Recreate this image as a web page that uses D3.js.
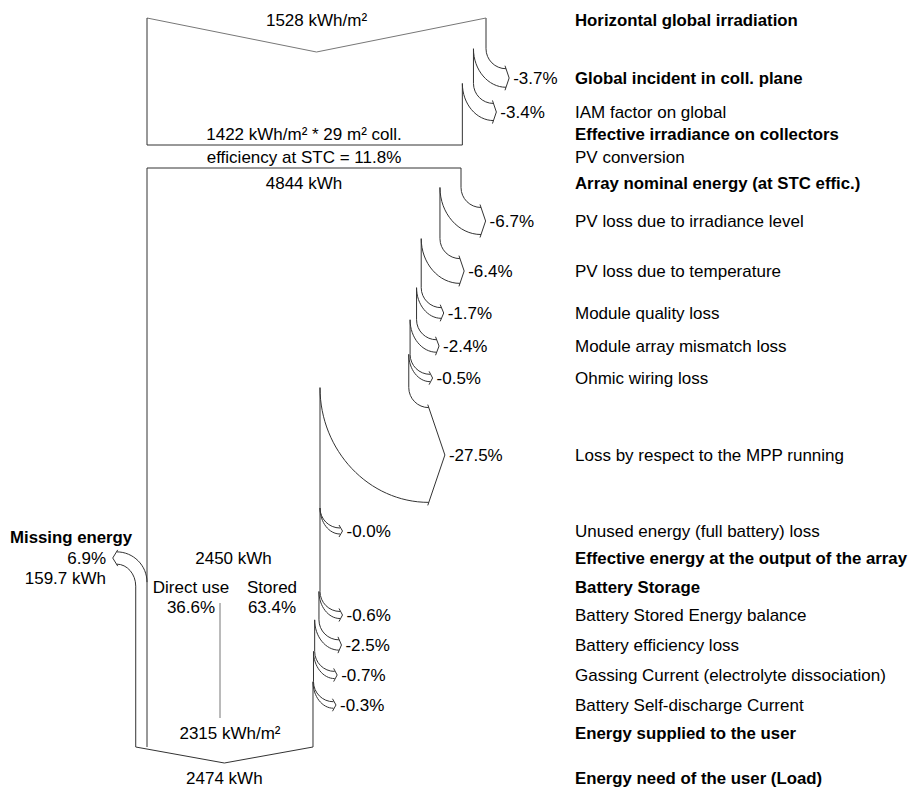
<!DOCTYPE html>
<html>
<head>
    <title>Loss diagram</title>
    <script src="https://d3js.org/d3.v7.min.js"></script>
    <style>
        body {
            margin: 0;
            background: #fff;
        }
        svg text {
            font-family: "Liberation Sans", Arial, sans-serif;
            font-size: 17px;
            fill: #000;
        }
        .bold {
            font-weight: bold;
            font-size: 16.8px;
        }
        .edge {
            stroke: #333;
            stroke-width: 1;
            fill: none;
        }
        .soft {
            stroke: #777;
            stroke-width: 1;
            fill: none;
        }
    </style>
</head>
<body>
    <svg id="chart" width="913" height="789"></svg>

    <script>
        // Right column: step names, bold flag and loss (%) of each step
        const stepNames = [
            'Horizontal global irradiation',
            'Global incident in coll. plane',
            'IAM factor on global',
            'Effective irradiance on collectors',
            'PV conversion',
            'Array nominal energy (at STC effic.)',
            'PV loss due to irradiance level',
            'PV loss due to temperature',
            'Module quality loss',
            'Module array mismatch loss',
            'Ohmic wiring loss',
            'Loss by respect to the MPP running',
            'Unused energy (full battery) loss',
            'Effective energy at the output of the array',
            'Battery Storage',
            'Battery Stored Energy balance',
            'Battery efficiency loss',
            'Gassing Current (electrolyte dissociation)',
            'Battery Self-discharge Current',
            'Energy supplied to the user',
            'Energy need of the user (Load)'
        ];
        const stepBold = [1, 1, 0, 1, 0, 1, 0, 0, 0, 0, 0, 0, 0, 1, 1, 0, 0, 0, 0, 1, 1];
        const stepLoss = [null, -3.7, -3.4, null, null, null, -6.7, -6.4, -1.7, -2.4, -0.5,
                          -27.5, -0.0, null, null, -0.6, -2.5, -0.7, -0.3, null, null];

        // flow values
        const irradiation = [1528, 1422];      // kWh/m2: horizontal, effective
        const collArea = [29];                  // m2
        const stcEfficiency = [11.8];           // %
        const arrayEnergy = [4844, 2450];       // kWh: nominal, array output
        const userEnergy = [2315, 2474];        // kWh: supplied, need
        const missingEnergy = [6.9, 159.7];     // %, kWh
        const batterySplit = [36.6, 63.4];      // % direct use, stored

        // layout (vertical position of each row)
        const rowY = [20, 78, 112, 134, 157, 183, 221, 271, 313, 346, 378, 455,
                      531, 558, 587, 615, 645, 675, 705, 733, 778];
        const LEFT = 147;
        const TOP_Y = 18, V_DEPTH = 34;
        const BOX1_BOTTOM = 145, BOX2_TOP = 168;
        const BOTTOM_Y = 747, BOTTOM_V = 16;
        const LABEL_X = 575;

        const svg = d3.select('#chart');

        // one scale per part of the diagram
        const xIrr = d3.scaleLinear().domain([0, irradiation[0]]).range([LEFT, 486]);
        const xArr = d3.scaleLinear().domain([0, arrayEnergy[0]]).range([LEFT, 461]);
        const xOut = d3.scaleLinear().domain([0, arrayEnergy[1]]).range([LEFT, 320]);

        // quarter ellipse: vertical tangent at start, horizontal at end
        function quarter(x0, y0, x1, y1) {
            const k = 0.55;
            return `M${x0},${y0} C${x0},${y0 + (y1 - y0) * k} ${x1 - (x1 - x0) * k},${y1} ${x1},${y1}`;
        }

        // right column labels
        svg.append('g').selectAll('text')
            .data(stepNames)
            .join('text')
            .attr('class', (d, i) => stepBold[i] ? 'bold' : null)
            .attr('x', LABEL_X)
            .attr('y', (d, i) => rowY[i])
            .attr('dominant-baseline', 'central')
            .text(d => d);

        // walk the losses and draw the band edges + loss arrows
        const flow = svg.append('g');
        let value = irradiation[0];
        let scale = xIrr;
        let edge = { x: xIrr(irradiation[0]), y: TOP_Y };

        stepLoss.forEach((loss, i) => {
            if (i === 3) {
                // end of irradiance box
                flow.append('line').attr('class', 'edge')
                    .attr('x1', edge.x).attr('x2', edge.x)
                    .attr('y1', edge.y).attr('y2', BOX1_BOTTOM);
                flow.append('line').attr('class', 'edge')
                    .attr('x1', LEFT).attr('x2', edge.x)
                    .attr('y1', BOX1_BOTTOM).attr('y2', BOX1_BOTTOM);
            }
            if (i === 5) {
                value = arrayEnergy[0];
                scale = xArr;
                edge = { x: xArr(value), y: BOX2_TOP };
                flow.append('line').attr('class', 'edge')
                    .attr('x1', LEFT).attr('x2', edge.x)
                    .attr('y1', BOX2_TOP).attr('y2', BOX2_TOP);
            }
            if (loss === null) return;

            const xOld = scale(value);
            let xNew;
            if (i === 11) {
                // after MPP loss the flow is drawn on the array-output scale
                value = arrayEnergy[1] / (1 + stepLoss[12] / 100);
                scale = xOut;
                xNew = xOut(value);
            } else {
                value = value * (1 + loss / 100);
                xNew = scale(value);
            }

            const L = rowY[i];
            const span = (xOld - xNew) + 6;
            const yu = L - span / 2, yl = L + span / 2;
            const ys = yu - 20;
            const xe = xOld + 20;
            const dx = Math.max(2.5, span * 0.17);

            // old edge down to where it bends
            flow.append('line').attr('class', 'edge')
                .attr('x1', edge.x).attr('x2', edge.x)
                .attr('y1', edge.y).attr('y2', ys);
            flow.append('path').attr('class', 'edge').attr('d', quarter(xOld, ys, xe, yu));
            flow.append('path').attr('class', 'edge').attr('d', quarter(xNew, ys, xe, yl));
            flow.append('path').attr('class', 'edge')
                .attr('d', `M${xe - 1},${yu - 3} L${xe + dx},${L} L${xe - 1},${yl + 3}`);

            svg.append('text')
                .attr('x', xe + dx + 4)
                .attr('y', L)
                .attr('dominant-baseline', 'central')
                .text(`-${Math.abs(loss).toFixed(1)}%`);

            edge = { x: xNew, y: ys };
        });

        // last edge down to the bottom
        const xEnd = edge.x;
        flow.append('line').attr('class', 'edge')
            .attr('x1', xEnd).attr('x2', xEnd)
            .attr('y1', edge.y).attr('y2', BOTTOM_Y);

        // top irradiance box
        const xTopR = xIrr(irradiation[0]);
        flow.append('path').attr('class', 'soft')
            .attr('d', `M${LEFT},${TOP_Y} L${(LEFT + xTopR) / 2},${TOP_Y + V_DEPTH} L${xTopR},${TOP_Y}`);
        flow.append('line').attr('class', 'edge')
            .attr('x1', LEFT).attr('x2', LEFT).attr('y1', TOP_Y).attr('y2', BOX1_BOTTOM);

        // main left edge
        flow.append('line').attr('class', 'edge')
            .attr('x1', LEFT).attr('x2', LEFT).attr('y1', BOX2_TOP).attr('y2', BOTTOM_Y);

        // missing energy band (enters from the left)
        const xMiss = xOut(-missingEnergy[1]);
        const mL = rowY[13];
        const mSpan = (LEFT - xMiss) + 1;
        const mTop = mL - mSpan / 2, mBot = mL + mSpan / 2;
        const mEnd = xMiss - 19;
        flow.append('line').attr('class', 'edge')
            .attr('x1', xMiss).attr('x2', xMiss).attr('y1', mBot + 22).attr('y2', BOTTOM_Y);
        flow.append('path').attr('class', 'edge').attr('d', quarter(LEFT, mBot + 18, mEnd, mTop));
        flow.append('path').attr('class', 'edge').attr('d', quarter(xMiss, mBot + 22, mEnd, mBot));
        flow.append('path').attr('class', 'edge')
            .attr('d', `M${mEnd + 1},${mTop - 2} L${mEnd - 4},${mL} L${mEnd + 1},${mBot + 2}`);

        // bottom arrow
        flow.append('path').attr('class', 'edge')
            .attr('d', `M${xMiss},${BOTTOM_Y} L${(xMiss + xEnd) / 2},${BOTTOM_Y + BOTTOM_V} L${xEnd},${BOTTOM_Y}`);

        // direct use / stored divider
        flow.append('line').attr('class', 'soft')
            .attr('x1', 220).attr('x2', 220).attr('y1', 603).attr('y2', 718);

        // centre texts
        const centre = [
            { t: `${irradiation[0]} kWh/m²`, x: (LEFT + xTopR) / 2, y: rowY[0] },
            { t: `${irradiation[1]} kWh/m² * ${collArea[0]} m² coll.`, x: (LEFT + xArr(arrayEnergy[0])) / 2, y: rowY[3] },
            { t: `efficiency at STC = ${stcEfficiency[0]}%`, x: (LEFT + xArr(arrayEnergy[0])) / 2, y: rowY[4] },
            { t: `${arrayEnergy[0]} kWh`, x: (LEFT + xArr(arrayEnergy[0])) / 2, y: rowY[5] },
            { t: `${arrayEnergy[1]} kWh`, x: (LEFT + xOut(arrayEnergy[1])) / 2, y: rowY[13] },
            { t: 'Direct use', x: 191, y: rowY[14] },
            { t: `${batterySplit[0]}%`, x: 191, y: rowY[14] + 20 },
            { t: 'Stored', x: 272, y: rowY[14] },
            { t: `${batterySplit[1]}%`, x: 272, y: rowY[14] + 20 },
            { t: `${userEnergy[0]} kWh/m²`, x: (LEFT + xEnd) / 2, y: rowY[19] },
            { t: `${userEnergy[1]} kWh`, x: (xMiss + xEnd) / 2, y: rowY[20] }
        ];
        svg.append('g').selectAll('text')
            .data(centre)
            .join('text')
            .attr('x', d => d.x)
            .attr('y', d => d.y)
            .attr('text-anchor', 'middle')
            .attr('dominant-baseline', 'central')
            .text(d => d.t);

        // missing energy labels
        svg.append('text').attr('class', 'bold')
            .attr('x', 10).attr('y', 537).attr('dominant-baseline', 'central')
            .text('Missing energy');
        svg.append('text')
            .attr('x', 106).attr('y', mL).attr('text-anchor', 'end').attr('dominant-baseline', 'central')
            .text(`${missingEnergy[0]}%`);
        svg.append('text')
            .attr('x', 106).attr('y', mL + 20).attr('text-anchor', 'end').attr('dominant-baseline', 'central')
            .text(`${missingEnergy[1]} kWh`);
    </script>
</body>
</html>
